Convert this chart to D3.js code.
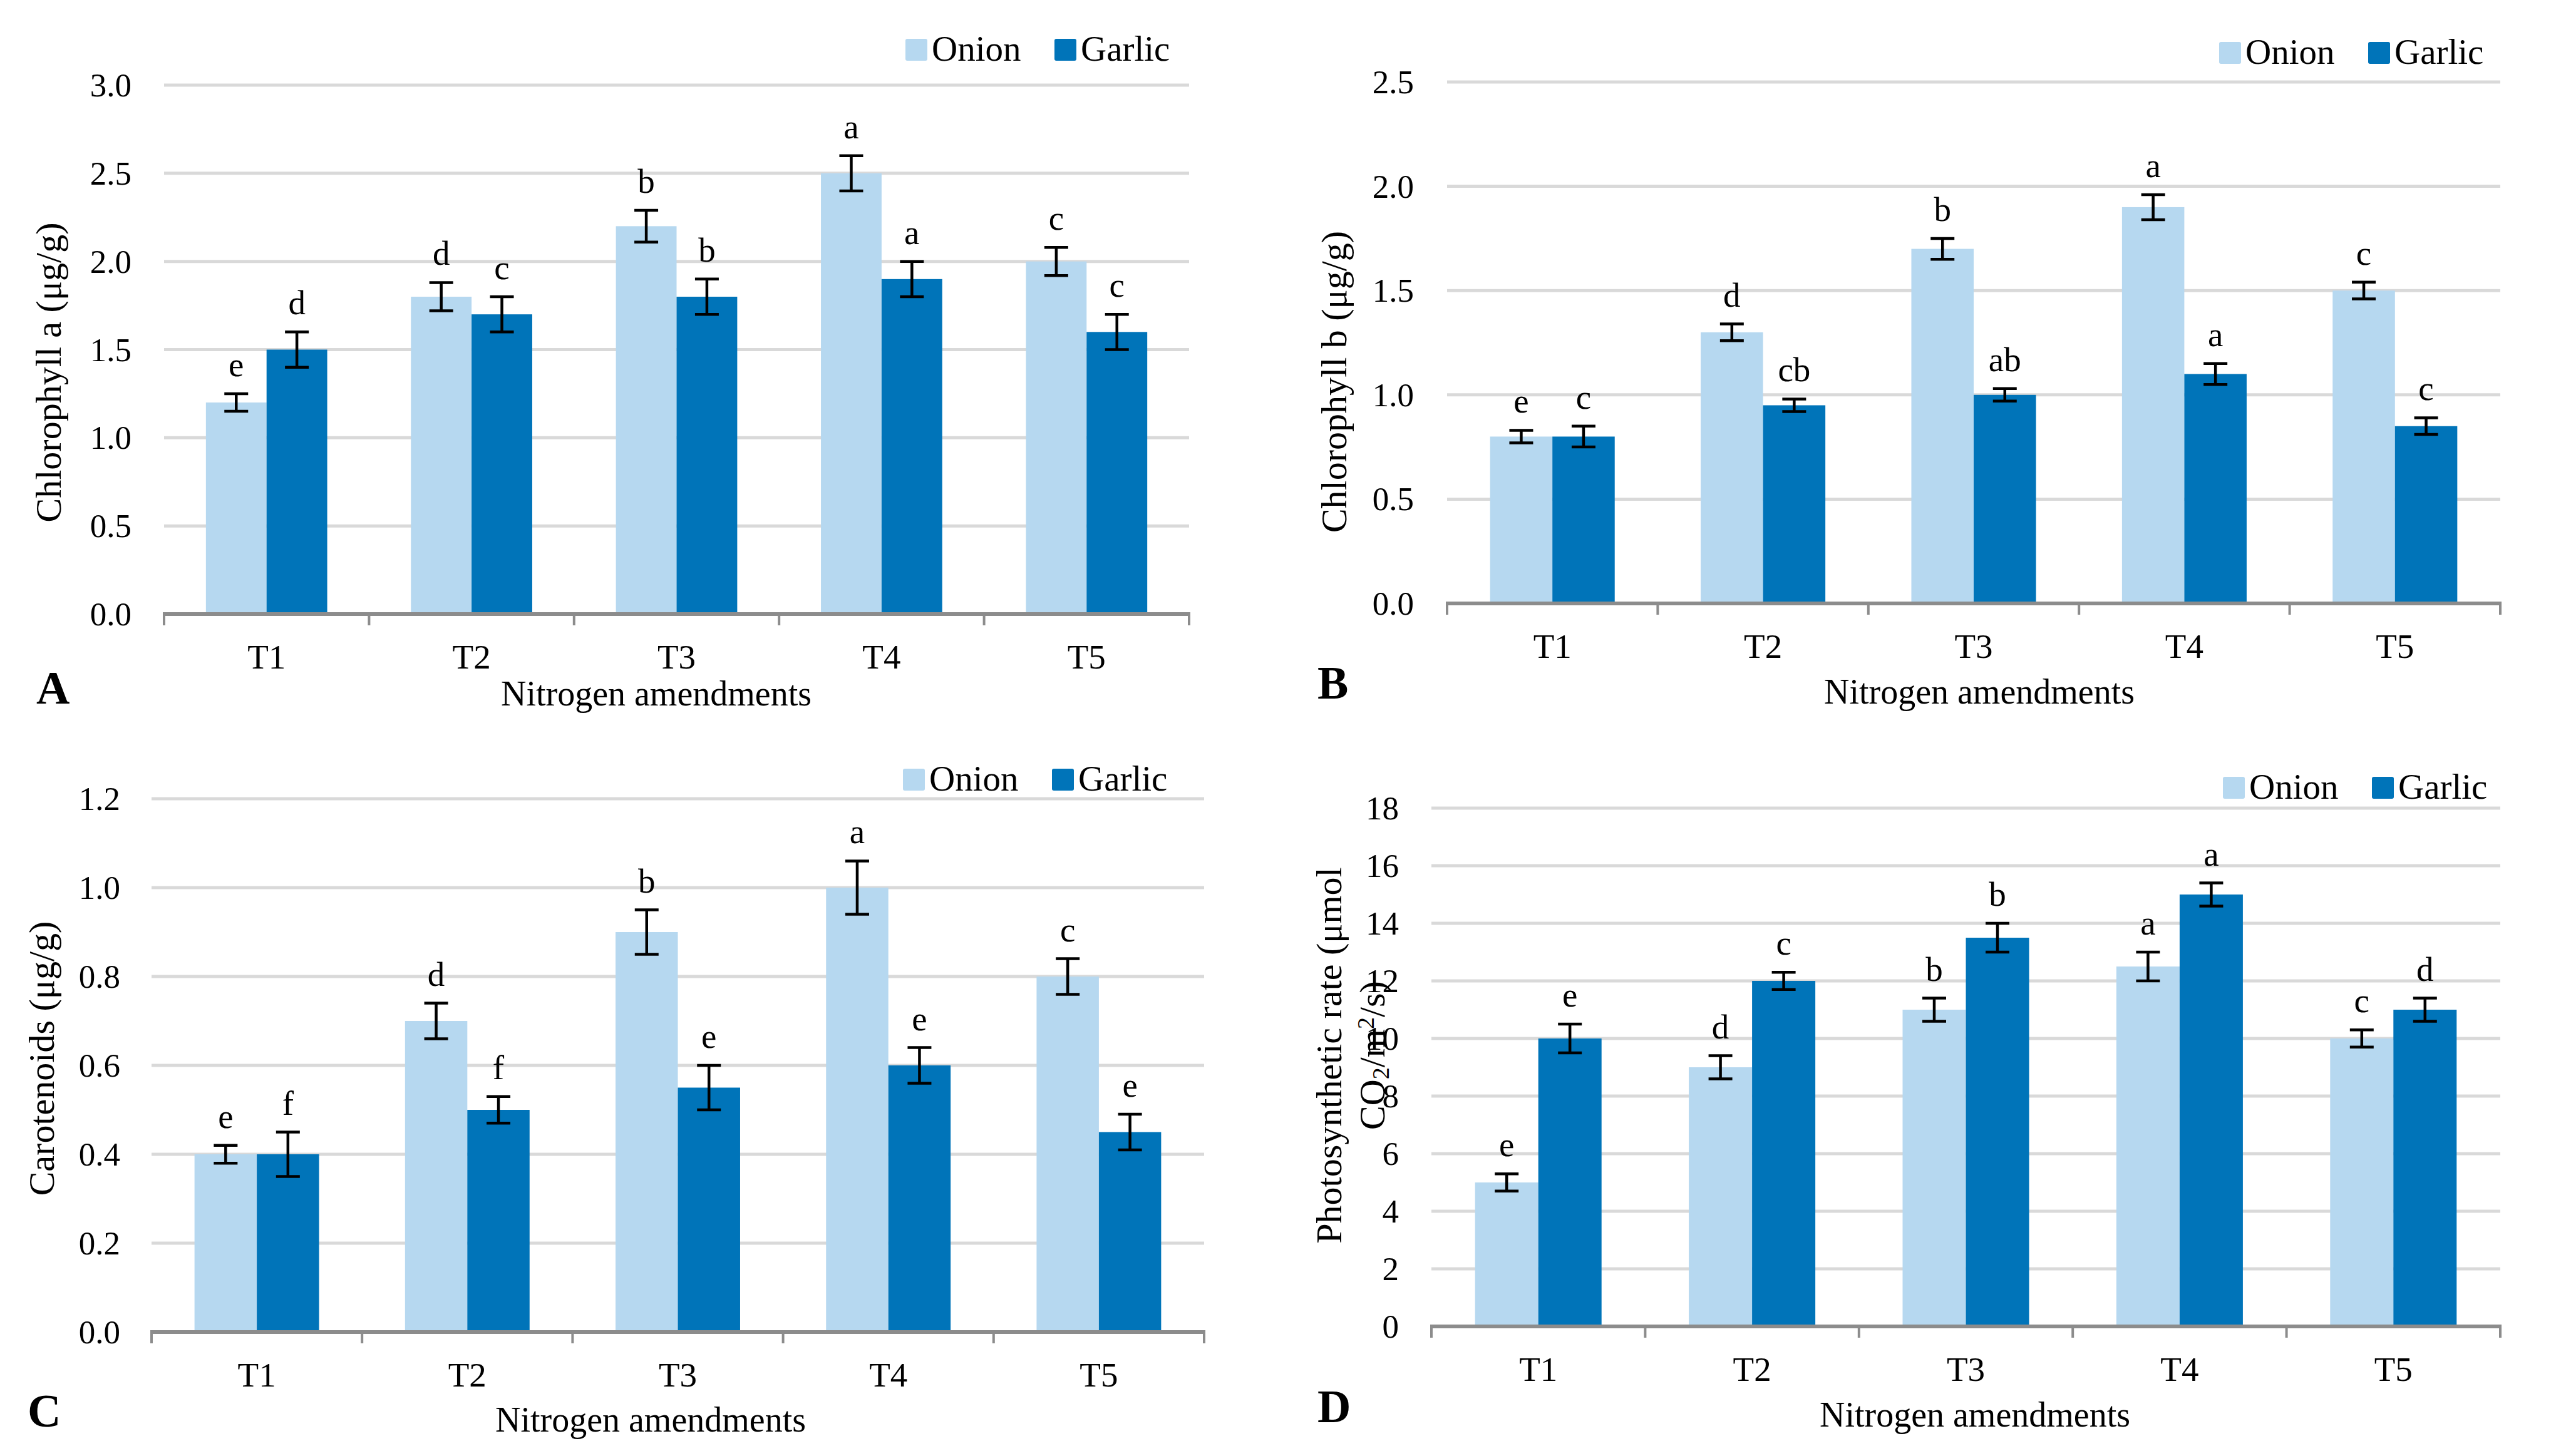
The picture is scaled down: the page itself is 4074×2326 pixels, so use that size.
<!DOCTYPE html>
<html>
<head>
<meta charset="utf-8">
<script src="https://cdn.jsdelivr.net/npm/d3@7"></script>
<style>
  html, body { margin: 0; padding: 0; background: #fff; }
  svg text { font-family: "Liberation Serif", "Times New Roman", serif; fill: #000; }
</style>
</head>
<body>
<svg id="chart" width="4074" height="2326"></svg>
<script>
// ---- data ----
var categories = ['T1', 'T2', 'T3', 'T4', 'T5'];
var seriesNames = ['Onion', 'Garlic'];

var chlAOnion = [1.2, 1.8, 2.2, 2.5, 2.0];
var chlAGarlic = [1.5, 1.7, 1.8, 1.9, 1.6];
var chlAOnionErr = [0.05, 0.08, 0.09, 0.1, 0.08];
var chlAGarlicErr = [0.1, 0.1, 0.1, 0.1, 0.1];
var chlAOnionLetters = ['e', 'd', 'b', 'a', 'c'];
var chlAGarlicLetters = ['d', 'c', 'b', 'a', 'c'];
var chlATicks = [0, 0.5, 1.0, 1.5, 2.0, 2.5, 3.0];

var chlBOnion = [0.8, 1.3, 1.7, 1.9, 1.5];
var chlBGarlic = [0.8, 0.95, 1.0, 1.1, 0.85];
var chlBOnionErr = [0.03, 0.04, 0.05, 0.06, 0.04];
var chlBGarlicErr = [0.05, 0.03, 0.03, 0.05, 0.04];
var chlBOnionLetters = ['e', 'd', 'b', 'a', 'c'];
var chlBGarlicLetters = ['c', 'cb', 'ab', 'a', 'c'];
var chlBTicks = [0, 0.5, 1.0, 1.5, 2.0, 2.5];

var carOnion = [0.4, 0.7, 0.9, 1.0, 0.8];
var carGarlic = [0.4, 0.5, 0.55, 0.6, 0.45];
var carOnionErr = [0.02, 0.04, 0.05, 0.06, 0.04];
var carGarlicErr = [0.05, 0.03, 0.05, 0.04, 0.04];
var carOnionLetters = ['e', 'd', 'b', 'a', 'c'];
var carGarlicLetters = ['f', 'f', 'e', 'e', 'e'];
var carTicks = [0, 0.2, 0.4, 0.6, 0.8, 1.0, 1.2];

var photoOnion = [5, 9, 11, 12.5, 10];
var photoGarlic = [10, 12, 13.5, 15, 11];
var photoOnionErr = [0.3, 0.4, 0.4, 0.5, 0.3];
var photoGarlicErr = [0.5, 0.3, 0.5, 0.4, 0.4];
var photoOnionLetters = ['e', 'd', 'b', 'a', 'c'];
var photoGarlicLetters = ['e', 'c', 'b', 'a', 'd'];
var photoTicks = [0, 2, 4, 6, 8, 10, 12, 14, 16, 18];

var colors = ['#B6D8F0', '#0074B9'];

var svg = d3.select('#chart');

function drawPanel(p) {
    var g = svg.append('g');
    var y = d3.scaleLinear().domain([0, p.ticks[p.ticks.length - 1]]).range([p.bottom, p.top]);
    var x0 = d3.scaleBand().domain(categories).range([p.left, p.right]).padding(0);
    var x1 = d3.scaleBand().domain(seriesNames).range([0, x0.bandwidth()])
        .paddingInner(0).paddingOuter(0.69);

    // gridlines
    g.selectAll('line.grid').data(p.ticks.slice(1)).enter().append('line')
        .attr('x1', p.left).attr('x2', p.right)
        .attr('y1', function (d) { return y(d); })
        .attr('y2', function (d) { return y(d); })
        .attr('stroke', '#D9D9D9').attr('stroke-width', 5);

    // y tick labels
    g.selectAll('text.ytick').data(p.ticks).enter().append('text')
        .attr('x', p.labelX).attr('y', function (d) { return y(d) + 18; })
        .attr('text-anchor', 'end').attr('font-size', 53)
        .text(function (d) { return d3.format(p.fmt)(d); });

    var rows = categories.map(function (c, i) {
        return [
            { cat: c, s: seriesNames[0], v: p.onion[i], e: p.onionErr[i], l: p.onionLetters[i] },
            { cat: c, s: seriesNames[1], v: p.garlic[i], e: p.garlicErr[i], l: p.garlicLetters[i] }
        ];
    });
    var flat = [].concat.apply([], rows);
    function cx(d) { return x0(d.cat) + x1(d.s) + x1.bandwidth() / 2; }

    g.selectAll('rect.bar').data(flat).enter().append('rect')
        .attr('x', function (d) { return x0(d.cat) + x1(d.s); })
        .attr('y', function (d) { return y(d.v); })
        .attr('width', x1.bandwidth())
        .attr('height', function (d) { return y(0) - y(d.v); })
        .attr('fill', function (d) { return colors[seriesNames.indexOf(d.s)]; });

    // axis line and ticks
    g.append('line').attr('x1', p.left - 2).attr('x2', p.right + 2)
        .attr('y1', y(0)).attr('y2', y(0))
        .attr('stroke', '#8C8C8C').attr('stroke-width', 6);
    var bounds = categories.map(function (c) { return x0(c); }).concat([p.right]);
    g.selectAll('line.xtick').data(bounds).enter().append('line')
        .attr('x1', function (d) { return d; }).attr('x2', function (d) { return d; })
        .attr('y1', y(0)).attr('y2', y(0) + 18)
        .attr('stroke', '#8C8C8C').attr('stroke-width', 4);

    // error bars
    var eb = g.selectAll('g.err').data(flat).enter().append('g')
        .attr('stroke', '#000').attr('stroke-width', 4.5);
    eb.append('line')
        .attr('x1', cx).attr('x2', cx)
        .attr('y1', function (d) { return y(d.v + d.e); })
        .attr('y2', function (d) { return y(d.v - d.e); });
    eb.append('line')
        .attr('x1', function (d) { return cx(d) - 19; }).attr('x2', function (d) { return cx(d) + 19; })
        .attr('y1', function (d) { return y(d.v + d.e); })
        .attr('y2', function (d) { return y(d.v + d.e); });
    eb.append('line')
        .attr('x1', function (d) { return cx(d) - 19; }).attr('x2', function (d) { return cx(d) + 19; })
        .attr('y1', function (d) { return y(d.v - d.e); })
        .attr('y2', function (d) { return y(d.v - d.e); });

    // significance letters
    g.selectAll('text.sig').data(flat).enter().append('text')
        .attr('x', cx).attr('y', function (d) { return y(d.v + d.e) - 28; })
        .attr('text-anchor', 'middle').attr('font-size', 55)
        .text(function (d) { return d.l; });

    // category labels
    g.selectAll('text.cat').data(categories).enter().append('text')
        .attr('x', function (d) { return x0(d) + x0.bandwidth() / 2; })
        .attr('y', y(0) + 87)
        .attr('text-anchor', 'middle').attr('font-size', 55)
        .text(function (d) { return d; });

    // x title
    g.append('text').attr('x', p.xTitleX).attr('y', p.xTitleY)
        .attr('text-anchor', 'middle').attr('font-size', 56)
        .text('Nitrogen amendments');

    // panel letter
    g.append('text').attr('x', p.letterX).attr('y', p.letterY)
        .attr('font-size', 74).attr('font-weight', 'bold')
        .text(p.letter);

    // y title
    p.yTitle.forEach(function (line) {
        var t = g.append('text')
            .attr('transform', 'translate(' + line.x + ',' + p.yTitleY + ') rotate(-90)')
            .attr('text-anchor', 'middle').attr('font-size', 58);
        line.parts.forEach(function (part) {
            var ts = t.append('tspan').text(part.t);
            if (part.sub) { ts.attr('font-size', 38).attr('baseline-shift', '-18%'); }
            if (part.sup) { ts.attr('font-size', 38).attr('baseline-shift', '45%'); }
        });
    });

    // legend
    var lg = g.append('g');
    seriesNames.forEach(function (s, i) {
        var lx = p.legendX + i * 238;
        lg.append('rect').attr('x', lx).attr('y', p.legendY).attr('width', 35).attr('height', 35)
            .attr('rx', 3).attr('fill', colors[i]);
        lg.append('text').attr('x', lx + 42).attr('y', p.legendY + 35)
            .attr('font-size', 57).text(s);
    });
}

drawPanel({
    left: 262, right: 1899, top: 136, bottom: 981, ticks: chlATicks, fmt: '.1f', labelX: 210,
    onion: chlAOnion, garlic: chlAGarlic, onionErr: chlAOnionErr, garlicErr: chlAGarlicErr,
    onionLetters: chlAOnionLetters, garlicLetters: chlAGarlicLetters,
    xTitleX: 1048, xTitleY: 1127, letter: 'A', letterX: 58, letterY: 1124,
    yTitle: [{ x: 97, parts: [{ t: 'Chlorophyll a (μg/g)' }] }], yTitleY: 595,
    legendX: 1446, legendY: 62
});
drawPanel({
    left: 2311, right: 3993, top: 131, bottom: 964, ticks: chlBTicks, fmt: '.1f', labelX: 2258,
    onion: chlBOnion, garlic: chlBGarlic, onionErr: chlBOnionErr, garlicErr: chlBGarlicErr,
    onionLetters: chlBOnionLetters, garlicLetters: chlBGarlicLetters,
    xTitleX: 3161, xTitleY: 1124, letter: 'B', letterX: 2104, letterY: 1116,
    yTitle: [{ x: 2150, parts: [{ t: 'Chlorophyll b (μg/g)' }] }], yTitleY: 610,
    legendX: 3544, legendY: 67
});
drawPanel({
    left: 242, right: 1923, top: 1276, bottom: 2128, ticks: carTicks, fmt: '.1f', labelX: 192,
    onion: carOnion, garlic: carGarlic, onionErr: carOnionErr, garlicErr: carGarlicErr,
    onionLetters: carOnionLetters, garlicLetters: carGarlicLetters,
    xTitleX: 1039, xTitleY: 2287, letter: 'C', letterX: 44, letterY: 2279,
    yTitle: [{ x: 86, parts: [{ t: 'Carotenoids (μg/g)' }] }], yTitleY: 1691,
    legendX: 1442, legendY: 1228
});
drawPanel({
    left: 2286, right: 3993, top: 1291, bottom: 2119, ticks: photoTicks, fmt: 'd', labelX: 2234,
    onion: photoOnion, garlic: photoGarlic, onionErr: photoOnionErr, garlicErr: photoGarlicErr,
    onionLetters: photoOnionLetters, garlicLetters: photoGarlicLetters,
    xTitleX: 3154, xTitleY: 2279, letter: 'D', letterX: 2104, letterY: 2272,
    yTitle: [
        { x: 2142, parts: [{ t: 'Photosynthetic rate (μmol' }] },
        { x: 2211, parts: [{ t: 'CO' }, { t: '2', sub: true }, { t: '/m' }, { t: '2', sup: true }, { t: '/s)' }] }
    ], yTitleY: 1686,
    legendX: 3550, legendY: 1241
});
</script>
</body>
</html>
